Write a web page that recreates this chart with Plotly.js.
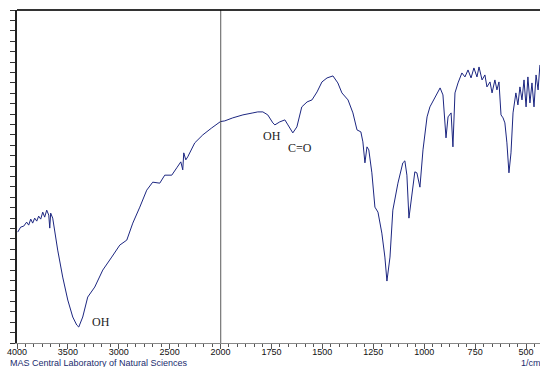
<!DOCTYPE html>
<html>
<head>
<meta charset="utf-8">
<script src="https://cdn.plot.ly/plotly-3.0.1.min.js"></script>
<style>html,body{margin:0;padding:0;background:#fff;}#chart{width:540px;height:367px;}</style>
</head>
<body>
<div id="chart"></div>
<script>
// IR spectrum, high-wavenumber part (4000-2000 1/cm)
const waveHigh = [3993,3964,3934,3905,3885,3865,3846,3826,3806,3787,3767,3747,3728,3708,3688,3678,3669,3649,3600,3551,3501,3452,3413,3393,3354,3305,3236,3157,3069,2990,2921,2862,2793,2725,2666,2597,2548,2479,2430,2390,2371,2361,2341,2322,2253,2174,2086,2027,2000];
const transHigh = [33.3,34.8,35.1,36.3,35.4,37.2,36.0,37.5,36.6,38.1,37.2,39.3,37.8,39.9,38.4,34.5,39.0,37.5,27.9,19.8,12.9,7.8,5.4,4.8,7.8,13.8,16.8,21.9,25.8,29.4,30.9,36.0,40.8,45.9,48.3,48.0,50.4,50.4,52.6,54.4,52.0,57.1,55.0,55.9,60.1,62.5,64.6,66.1,66.5];
// low-wavenumber part (2000-430 1/cm)
const waveLow = [2000,1979,1940,1890,1841,1817,1792,1768,1743,1733,1709,1684,1669,1645,1625,1601,1575,1551,1526,1502,1477,1448,1424,1404,1374,1350,1330,1311,1301,1291,1281,1272,1257,1242,1227,1208,1193,1183,1168,1154,1129,1105,1095,1085,1075,1060,1046,1036,1021,1006,986,972,947,922,908,898,893,883,868,859,849,834,815,800,785,770,756,741,731,716,702,692,677,667,653,643,633,623,613,604,594,584,574,564,550,540,530,520,510,500,491,481,471,461,451,441,432];
const transLow = [66.5,66.7,67.6,68.5,69.1,69.4,69.4,68.5,66.1,65.5,66.4,67.0,65.5,63.1,64.9,70.9,72.4,73.0,75.4,78.4,79.6,80.2,78.1,75.1,73.0,69.1,64.0,63.4,60.4,54.1,58.9,58.0,51.1,40.8,39.3,33.0,25.8,18.6,25.8,39.9,48.0,54.1,54.7,50.4,37.5,45.0,51.4,51.1,46.8,58.0,67.9,70.9,73.9,76.6,74.5,64.9,61.6,67.9,69.1,58.9,75.1,78.1,81.1,79.9,82.0,79.6,82.6,79.9,82.9,79.0,80.5,76.9,78.4,75.1,79.0,76.0,78.4,68.5,67.6,66.1,60.1,51.1,57.1,69.1,75.1,71.5,76.9,73.0,79.0,70.9,79.9,72.1,78.1,70.9,80.5,76.0,83.5];
const tickHigh = [4000,3500,3000,2500,2000];
const tickLow = [1750,1500,1250,1000,750,500];
const peakLabels = ["OH","OH","C=O"];
const peakX = [3177,1748,1610];
const peakY = [6.3,62.2,58.6];
const peakAxis = ["x","x2","x2"];

const lineColor = '#1c2680';
const d = 203.5/523;

const traces = [
  {x: waveHigh, y: transHigh, xaxis:'x', yaxis:'y', type:'scatter', mode:'lines', line:{color:lineColor, width:1}, hoverinfo:'skip'},
  {x: waveLow, y: transLow, xaxis:'x2', yaxis:'y', type:'scatter', mode:'lines', line:{color:lineColor, width:1}, hoverinfo:'skip'}
];

const annotations = peakLabels.map((t,i)=>({
  text:t, x:peakX[i], y:peakY[i], xref:peakAxis[i], yref:'y', showarrow:false,
  font:{family:'Liberation Serif, DejaVu Serif, serif', size:12, color:'#222'}
}));
annotations.push({text:'MAS Central Laboratory of Natural Sciences', xref:'paper', yref:'paper',
  x:(8-17)/523, y:-(363.5-343)/333, xanchor:'left', yanchor:'middle', showarrow:false,
  font:{family:'Liberation Sans, Arial, sans-serif', size:9, color:'#1a2b6e'}});
annotations.push({text:'1/cm', xref:'paper', yref:'paper',
  x:(519-17)/523, y:-(362.5-343)/333, xanchor:'left', yanchor:'middle', showarrow:false,
  font:{family:'Liberation Sans, Arial, sans-serif', size:9, color:'#1a2b6e'}});

const axCommon = {
  showgrid:false, zeroline:false, showline:true, linecolor:'#888', linewidth:1,
  ticks:'outside', ticklen:5, tickcolor:'#555', tickwidth:1, ticklabelstandoff:-5,
  tickfont:{family:'Liberation Sans, Arial, sans-serif', size:9, color:'#111'},
  anchor:'y'
};

const layout = {
  width:540, height:367,
  margin:{l:17, r:0, t:10, b:24},
  paper_bgcolor:'#fff', plot_bgcolor:'#fff',
  showlegend:false,
  xaxis: Object.assign({}, axCommon, {
    domain:[0,d], range:[4000,2000], tickmode:'array', tickvals:tickHigh, ticktext:tickHigh.map(String),
    minor:{tick0:4000, dtick:500/6, ticks:'outside', ticklen:3, tickcolor:'#555', showgrid:false}
  }),
  xaxis2: Object.assign({}, axCommon, {
    domain:[d,1], range:[2000,431.6], tickmode:'array', tickvals:tickLow, ticktext:tickLow.map(String),
    minor:{tick0:2000, dtick:250/6, ticks:'outside', ticklen:3, tickcolor:'#555', showgrid:false}
  }),
  yaxis: {
    range:[0,100], showgrid:false, zeroline:false, showline:true, linecolor:'#222', linewidth:2,
    ticks:'outside', ticklen:5, tickcolor:'#333', dtick:100/32, tick0:0, showticklabels:false
  },
  shapes:[
    {type:'line', xref:'paper', yref:'paper', x0:0, x1:1, y0:1, y1:1, line:{color:'#333', width:2}},
    {type:'line', xref:'x2', yref:'paper', x0:2000, x1:2000, y0:0, y1:1, line:{color:'#000', width:1.3}}
  ],
  annotations: annotations
};

Plotly.newPlot('chart', traces, layout, {displayModeBar:false, staticPlot:true});
</script>
</body>
</html>
